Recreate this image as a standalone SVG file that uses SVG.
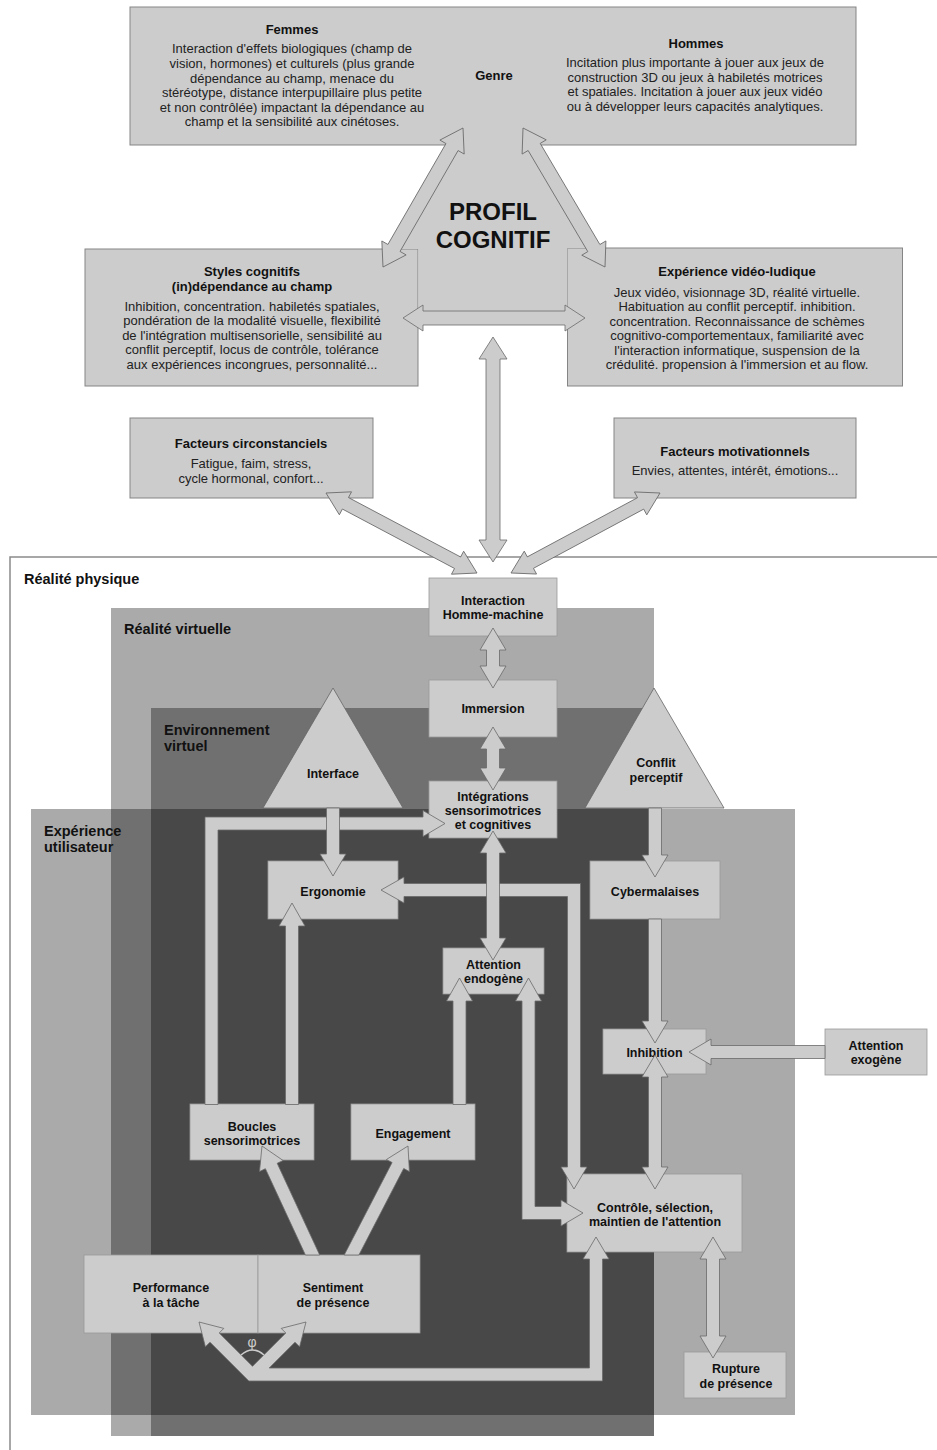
<svg xmlns="http://www.w3.org/2000/svg" width="937" height="1450" viewBox="0 0 937 1450">
<defs>
<style>
.bx{fill:#cccccc;stroke:#858585;stroke-width:1}
.nd{fill:#cccccc;stroke:#9a9a9a;stroke-width:0.8}
.tri{fill:#cccccc;stroke:#666666;stroke-width:0.8}
.ar{fill:#cccccc;stroke:#6a6a6a;stroke-width:0.8;stroke-linejoin:miter}
text{font-family:"Liberation Sans",Arial,Helvetica,sans-serif}
.t{font-size:13px;fill:#222222;text-anchor:middle}
.h{font-size:13px;font-weight:bold;fill:#111111;text-anchor:middle}
.n{font-size:12.5px;font-weight:bold;fill:#111111;text-anchor:middle}
.a{font-size:14.5px;font-weight:bold;fill:#111111}
</style>
</defs>
<rect x="0" y="0" width="937" height="1450" fill="#ffffff"/>

<g id="regions">
<path d="M10,1450 V557 H937" fill="none" stroke="#8a8a8a" stroke-width="1.5"/>
<rect x="111" y="608" width="543" height="828" fill="#aaaaaa"/>
<rect x="151" y="708" width="503" height="728" fill="#707070"/>
<rect x="31" y="809" width="764" height="606" fill="#aaaaaa"/>
<rect x="111" y="809" width="543" height="606" fill="#707070"/>
<rect x="151" y="809" width="503" height="606" fill="#484848"/>
<text class="a" x="24" y="584">Réalité physique</text>
<text class="a" x="124" y="634">Réalité virtuelle</text>
<text class="a" x="164" y="735">Environnement</text>
<text class="a" x="164" y="751">virtuel</text>
<text class="a" x="44" y="836">Expérience</text>
<text class="a" x="44" y="852">utilisateur</text>
</g>

<g id="genre">
<rect class="bx" x="130" y="7" width="726" height="138"/>
<text class="h" x="292" y="34">Femmes</text>
<text class="t" x="292" y="52.5">Interaction d'effets biologiques (champ de</text>
<text class="t" x="292" y="67.5">vision, hormones) et culturels (plus grande</text>
<text class="t" x="292" y="82.5">dépendance au champ, menace du</text>
<text class="t" x="292" y="97">stéréotype, distance interpupillaire plus petite</text>
<text class="t" x="292" y="111.5">et non contrôlée) impactant la dépendance au</text>
<text class="t" x="292" y="126">champ et la sensibilité aux cinétoses.</text>
<text class="h" x="494" y="80">Genre</text>
<text class="h" x="696" y="48">Hommes</text>
<text class="t" x="695" y="66.5">Incitation plus importante à jouer aux jeux de</text>
<text class="t" x="695" y="81.5">construction 3D ou jeux à habiletés motrices</text>
<text class="t" x="695" y="96">et spatiales. Incitation à jouer aux jeux vidéo</text>
<text class="t" x="695" y="110.5">ou à développer leurs capacités analytiques.</text>
</g>

<g id="styles-cognitifs">
<rect class="bx" x="85" y="249" width="333" height="137"/>
<text class="h" x="252" y="276">Styles cognitifs</text>
<text class="h" x="252" y="291">(in)dépendance au champ</text>
<text class="t" x="252" y="310.5">Inhibition, concentration. habiletés spatiales,</text>
<text class="t" x="252" y="325">pondération de la modalité visuelle, flexibilité</text>
<text class="t" x="252" y="339.5">de l'intégration multisensorielle, sensibilité au</text>
<text class="t" x="252" y="354">conflit perceptif, locus de contrôle, tolérance</text>
<text class="t" x="252" y="368.5">aux expériences incongrues, personnalité...</text>
</g>

<g id="experience-video-ludique">
<rect class="bx" x="567.5" y="248" width="335" height="138"/>
<text class="h" x="737" y="275.5">Expérience vidéo-ludique</text>
<text class="t" x="737" y="296.5">Jeux vidéo, visionnage 3D, réalité virtuelle.</text>
<text class="t" x="737" y="311">Habituation au conflit perceptif. inhibition.</text>
<text class="t" x="737" y="325.5">concentration. Reconnaissance de schèmes</text>
<text class="t" x="737" y="340">cognitivo-comportementaux, familiarité avec</text>
<text class="t" x="737" y="354.5">l'interaction informatique, suspension de la</text>
<text class="t" x="737" y="369">crédulité. propension à l'immersion et au flow.</text>
</g>

<g id="profil-cognitif">
<polygon points="456,140 530,140 594,248 567.5,248 567.5,312 418.5,312 418.5,249 394,249" fill="#cccccc"/>
</g>

<g id="facteurs-circonstanciels">
<rect class="bx" x="130" y="418" width="243" height="80"/>
<text class="h" x="251" y="447.5">Facteurs circonstanciels</text>
<text class="t" x="251" y="467.5">Fatigue, faim, stress,</text>
<text class="t" x="251" y="482.5">cycle hormonal, confort...</text>
</g>

<g id="facteurs-motivationnels">
<rect class="bx" x="614" y="418" width="242" height="80"/>
<text class="h" x="735" y="455.5">Facteurs motivationnels</text>
<text class="t" x="735" y="474.5">Envies, attentes, intérêt, émotions...</text>
</g>

<g id="interaction">
<rect class="nd" x="429" y="578" width="128" height="58"/>
<text class="n" x="493" y="605">Interaction</text>
<text class="n" x="493" y="619">Homme-machine</text>
</g>
<g id="immersion">
<rect class="nd" x="429" y="680" width="128" height="57"/>
<text class="n" x="493" y="713">Immersion</text>
</g>
<g id="integrations">
<rect class="nd" x="429" y="781" width="128" height="57"/>
<text class="n" x="493" y="800.5">Intégrations</text>
<text class="n" x="493" y="814.5">sensorimotrices</text>
<text class="n" x="493" y="828.5">et cognitives</text>
</g>
<g id="interface">
<polygon class="tri" points="333,688 403,808 263,808"/>
<text class="n" x="333" y="777.5">Interface</text>
</g>
<g id="conflit-perceptif">
<polygon class="tri" points="654,688 724,808 585,808"/>
<text class="n" x="656" y="766.5">Conflit</text>
<text class="n" x="656" y="781.5">perceptif</text>
</g>
<g id="ergonomie">
<rect class="nd" x="268" y="861" width="130" height="58"/>
<text class="n" x="333" y="895.5">Ergonomie</text>
</g>
<g id="cybermalaises">
<rect class="nd" x="590" y="861" width="130" height="58"/>
<text class="n" x="655" y="895.5">Cybermalaises</text>
</g>
<g id="attention-endogene">
<rect class="nd" x="443" y="948" width="101" height="46"/>
<text class="n" x="493.5" y="968.5">Attention</text>
<text class="n" x="493.5" y="982.5">endogène</text>
</g>
<g id="inhibition">
<rect class="nd" x="603" y="1029" width="103" height="45"/>
<text class="n" x="654.5" y="1056.5">Inhibition</text>
</g>
<g id="attention-exogene">
<rect class="nd" x="825" y="1029" width="102" height="46"/>
<text class="n" x="876" y="1049.5">Attention</text>
<text class="n" x="876" y="1063.5">exogène</text>
</g>
<g id="controle">
<rect class="nd" x="567" y="1174" width="175" height="78"/>
<text class="n" x="655" y="1211.5">Contrôle, sélection,</text>
<text class="n" x="655" y="1225.5">maintien de l'attention</text>
</g>
<g id="rupture">
<rect class="nd" x="684" y="1352" width="102" height="46"/>
<text class="n" x="736" y="1372.5">Rupture</text>
<text class="n" x="736" y="1387.5">de présence</text>
</g>
<g id="boucles">
<rect class="nd" x="190" y="1104" width="124" height="56"/>
<text class="n" x="252" y="1130.5">Boucles</text>
<text class="n" x="252" y="1144.5">sensorimotrices</text>
</g>
<g id="engagement">
<rect class="nd" x="351" y="1104" width="124" height="56"/>
<text class="n" x="413" y="1137.5">Engagement</text>
</g>
<g id="performance">
<rect class="nd" x="84" y="1255" width="174" height="78"/>
<text class="n" x="171" y="1291.5">Performance</text>
<text class="n" x="171" y="1306.5">à la tâche</text>
</g>
<g id="sentiment">
<rect class="nd" x="258" y="1255" width="162" height="78"/>
<text class="n" x="333" y="1291.5">Sentiment</text>
<text class="n" x="333" y="1306.5">de présence</text>
</g>

<g id="connectors">
<polygon class="ar" transform="translate(463 128) rotate(119.92)" points="0,0 22,-14 22,-7 138.4,-7 138.4,-14 160.4,0 138.4,14 138.4,7 22,7 22,14"/>
<polygon class="ar" transform="translate(523 128) rotate(59.46)" points="0,0 22,-14 22,-7 139.4,-7 139.4,-14 161.4,0 139.4,14 139.4,7 22,7 22,14"/>
<polygon class="ar" points="403,318 423,305 423,311 565,311 565,305 585,318 565,331 565,325 423,325 423,331"/>
<polygon class="ar" points="493,337 507,359 500,359 500,540 507,540 493,562 479,540 486,540 486,359 479,359"/>
<polygon class="ar" transform="translate(326 493) rotate(27.92)" points="0,0 22,-13 22,-6.5 148.9,-6.5 148.9,-13 170.9,0 148.9,13 148.9,6.5 22,6.5 22,13"/>
<polygon class="ar" transform="translate(660 493) rotate(151.77)" points="0,0 22,-13 22,-6.5 147.1,-6.5 147.1,-13 169.1,0 147.1,13 147.1,6.5 22,6.5 22,13"/>

<polygon class="ar" points="493,628 506,650 499.5,650 499.5,666 506,666 493,688 480,666 486.5,666 486.5,650 480,650"/>
<polygon class="ar" points="493,727 506,749 499.5,749 499.5,768 506,768 493,790 480,768 486.5,768 486.5,749 480,749"/>
<polygon class="ar" points="205,1104.5 205,817 423,817 423,810.5 445,823.5 423,836.5 423,830 218,830 218,1104.5"/>
<polygon class="ar" points="326.5,808 339.5,808 339.5,854 346,854 333,876 320,854 326.5,854"/>
<polygon class="ar" points="285.5,1104.5 285.5,926 279,926 292,903 305,926 298.5,926 298.5,1104.5"/>
<polygon class="ar" points="453,1104.5 453,1001 446.5,1001 459.5,978 472.5,1001 466,1001 466,1104.5"/>
<polygon class="ar" points="381,890 404,877 404,883.5 580.5,883.5 580.5,1167 587,1167 574,1189 561,1167 567.5,1167 567.5,896.5 404,896.5 404,903"/>
<polygon class="ar" points="493,831 506,853 499.5,853 499.5,938 506,938 493,960 480,938 486.5,938 486.5,853 480,853"/>
<polygon class="ar" points="528.5,978 541.5,1001 535,1001 535,1206.5 561,1206.5 561,1200 583,1213 561,1226 561,1219.5 522,1219.5 522,1001 515.5,1001"/>
<polygon class="ar" points="648.5,808 661.5,808 661.5,855 668,855 655,877 642,855 648.5,855"/>
<polygon class="ar" points="648.5,919 661.5,919 661.5,1021 668,1021 655,1043 642,1021 648.5,1021"/>
<polygon class="ar" points="655,1055 668,1077 661.5,1077 661.5,1167 668,1167 655,1189 642,1167 648.5,1167 648.5,1077 642,1077"/>
<polygon class="ar" points="825,1045.5 711,1045.5 711,1039 689,1052 711,1065 711,1058.5 825,1058.5"/>
<polygon class="ar" points="713,1237 726,1259 719.5,1259 719.5,1336 726,1336 713,1358 700,1336 706.5,1336 706.5,1259 700,1259"/>
<polygon class="ar" points="596,1237 609,1259 602.5,1259 602.5,1381 248.8,1381 210,1342.2 205.4,1346.8 199,1322 223.8,1328.4 219.2,1333 252.5,1366.3 285.8,1333 281.2,1328.4 306,1322 299.6,1346.8 295,1342.2 269.2,1368 589.5,1368 589.5,1259 583,1259"/>
<polygon class="ar" points="262,1146 283.1,1160.5 277.2,1163.3 319.7,1255 305.4,1255 265.4,1168.7 259.5,1171.5"/>
<polygon class="ar" points="408,1146 409.4,1171.5 403.7,1168.5 358.9,1255 344.2,1255 392.1,1162.5 386.4,1159.5"/>
<text x="252" y="1347" font-size="14" fill="#cccccc" text-anchor="middle">φ</text>
<path d="M241,1355 Q252.5,1345 264,1355" fill="none" stroke="#cccccc" stroke-width="1.5"/>
</g>

<g id="profil-label">
<text x="493" y="220" font-size="24" font-weight="bold" fill="#111111" text-anchor="middle">PROFIL</text>
<text x="493" y="248" font-size="24" font-weight="bold" fill="#111111" text-anchor="middle">COGNITIF</text>
</g>
</svg>
